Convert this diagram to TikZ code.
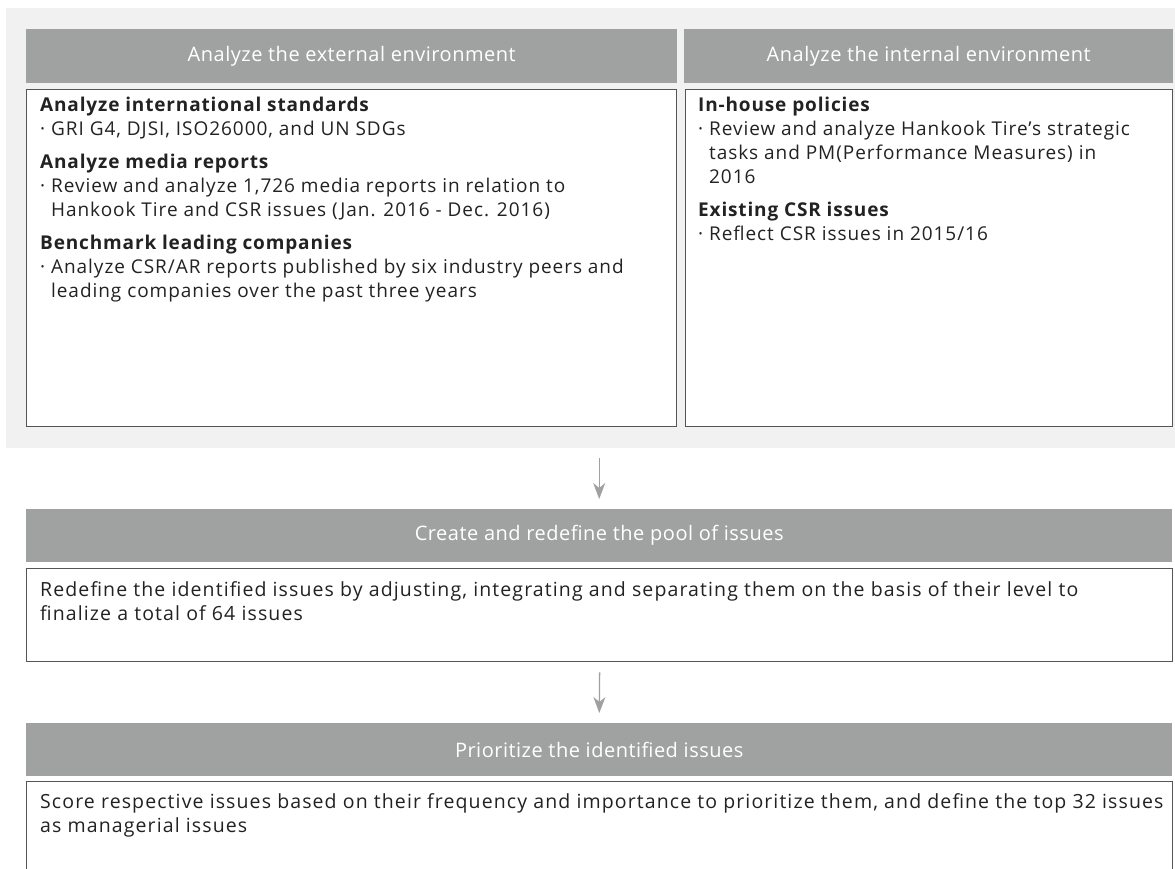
\documentclass[tikz,border=0pt]{standalone}
\usepackage{fontspec}
\setmainfont{Open Sans}[LetterSpace=5, BoldFeatures={LetterSpace=4.5}]
\newfontfamily\headfont{Open Sans}[LetterSpace=2.5]
\newfontfamily\widefont{Open Sans}[LetterSpace=5.7]
\usetikzlibrary{arrows.meta, positioning}

\definecolor{panelgray}{RGB}{241,241,241}
\definecolor{headgray}{RGB}{160,162,161}
\definecolor{edgegray}{RGB}{85,85,85}
\definecolor{textgray}{RGB}{34,34,34}
\definecolor{arrowgray}{RGB}{160,160,160}

\tikzset{
  panel/.style={fill=panelgray, draw=none, inner sep=0pt, anchor=north west},
  headbar/.style={fill=headgray, draw=none, text=white, inner sep=0pt, anchor=north west,
                  font=\headfont\fontsize{20}{24}\selectfont},
  contentbox/.style={fill=white, draw=edgegray, line width=1.4pt, inner sep=0pt, anchor=north west},
  bodytext/.style={align=left, inner sep=0pt, anchor=north west, text=textgray,
                   font=\fontsize{19}{24}\selectfont},
  widetext/.style={bodytext, font=\widefont\fontsize{19.5}{24}\selectfont},
  flowarrow/.style={draw=arrowgray, line width=1.3pt, shorten <=10pt, shorten >=10pt,
                    -{Stealth[length=16pt, width=12pt, inset=5pt]}}
}

\newcommand{\dotitem}{·\ }
\newcommand{\dotindent}{\hphantom{·\ }}

\begin{document}
\begin{tikzpicture}[x=1pt, y=-1pt]
\useasboundingbox (0,0) rectangle (1175,868);
\clip (0,0) rectangle (1175,868);

% analysis of the environment
\node[panel, minimum width=1169pt, minimum height=440pt] (envpanel) at (6,8) {};
\node[headbar, minimum width=651pt, minimum height=54pt] (exthead) at (26,29) {Analyze the external environment};
\node[headbar, minimum width=489pt, minimum height=54pt] (inthead) at (684,29) {Analyze the internal environment};
\node[contentbox, minimum width=650pt, minimum height=337pt] (extbox) at (26,89) {};
\node[contentbox, minimum width=487pt, minimum height=337pt] (intbox) at (685,89) {};

\node[bodytext] (exttext) at (40,97) {%
\textbf{Analyze international standards}\\
\dotitem GRI G4, DJSI, ISO26000, and UN SDGs\\[9pt]
\textbf{Analyze media reports}\\
\dotitem Review and analyze 1,726 media reports in relation to\\
\dotindent Hankook Tire and CSR issues (Jan. 2016 - Dec. 2016)\\[9pt]
\textbf{Benchmark leading companies}\\
\dotitem Analyze CSR/AR reports published by six industry peers and\\
\dotindent leading companies over the past three years};

\node[bodytext] (inttext) at (698,97) {%
\textbf{In-house policies}\\
\dotitem Review and analyze Hankook Tire’s strategic\\
\dotindent tasks and PM(Performance Measures) in\\
\dotindent 2016\\[9pt]
\textbf{Existing CSR issues}\\
\dotitem Reflect CSR issues in 2015/16};

% pool of issues
\node[headbar, minimum width=1146pt, minimum height=53pt] (poolhead) at (26,509) {Create and redefine the pool of issues};
\node[contentbox, minimum width=1146pt, minimum height=93pt] (poolbox) at (26,568) {};
\node[widetext] (pooltext) at (40,581) {%
Redefine the identified issues by adjusting, integrating and separating them on the basis of their level to\\
finalize a total of 64 issues};

% prioritization
\node[headbar, minimum width=1146pt, minimum height=53pt] (priohead) at (26,723) {Prioritize the identified issues};
\node[contentbox, minimum width=1146pt, minimum height=120pt] (priobox) at (26,781) {};
\node[widetext] (priotext) at (40,793) {%
Score respective issues based on their frequency and importance to prioritize them, and define the top 32 issues\\
as managerial issues};

\draw[flowarrow] (envpanel.south -| poolhead.north) -- (poolhead.north);
\draw[flowarrow] (poolbox.south) -- (priohead.north);
\end{tikzpicture}
\end{document}
